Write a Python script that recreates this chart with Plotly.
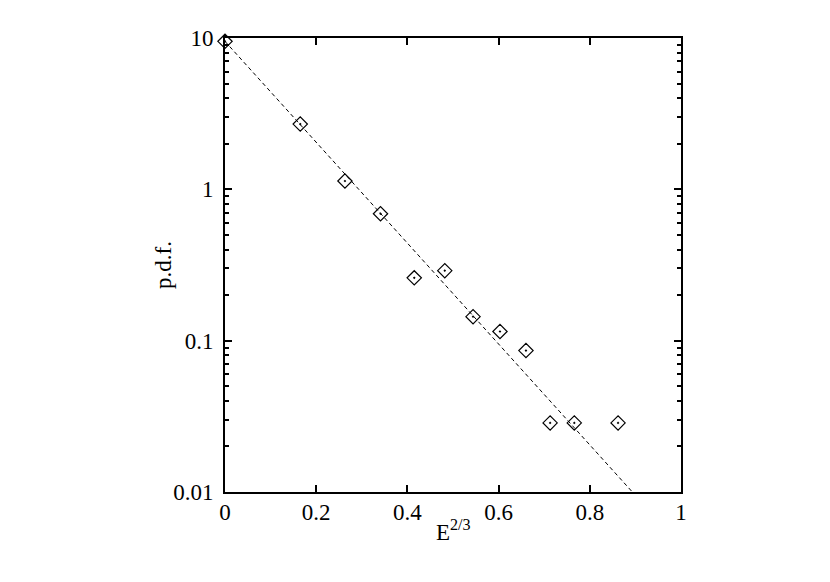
import plotly.graph_objects as go

# data
x_pts = [0.0, 0.165, 0.263, 0.341, 0.415, 0.482, 0.544, 0.603, 0.660, 0.713, 0.766, 0.862]
y_pts = [9.5, 2.70, 1.135, 0.69, 0.26, 0.29, 0.144, 0.115, 0.086, 0.0286, 0.0286, 0.0286]

x_fit = [0.0, 0.9]
y_fit = [9.5, 0.0095]

x_ticks = [0, 0.2, 0.4, 0.6, 0.8, 1]
x_ticklabels = ["0", "0.2", "0.4", "0.6", "0.8", "1"]
y_ticks = [0.01, 0.1, 1, 10]
y_ticklabels = ["0.01", "0.1", "1", "10"]
y_minor = [m * d for d in (0.01, 0.1, 1) for m in range(2, 10)]

x_title = "E<sup>2/3</sup>"
y_title = "p.d.f."

font = dict(family="Liberation Serif, Times New Roman, serif", size=23, color="black")

fig = go.Figure()
fig.add_trace(go.Scatter(x=x_fit, y=y_fit, mode="lines",
                         line=dict(color="black", width=1, dash="4px,3px"),
                         showlegend=False, hoverinfo="skip"))
fig.add_trace(go.Scatter(x=x_pts, y=y_pts, mode="markers",
                         marker=dict(symbol="diamond-open-dot", size=11, color="black",
                                     line=dict(width=1.2, color="black")),
                         showlegend=False, cliponaxis=False))

fig.add_annotation(text=x_title, xref="paper", yref="paper", x=0.5, y=0,
                   xanchor="center", yanchor="middle", yshift=-38, showarrow=False, font=font)
fig.add_annotation(text=y_title, xref="paper", yref="paper", x=0, y=0.5,
                   xanchor="center", yanchor="middle", xshift=-62, textangle=-90,
                   showarrow=False, font=font)

fig.update_layout(
    width=830, height=582,
    margin=dict(l=217, r=157, t=30, b=98, autoexpand=False),
    paper_bgcolor="white", plot_bgcolor="white",
    font=font,
    xaxis=dict(range=[0, 1], tickvals=x_ticks, ticktext=x_ticklabels,
               ticks="inside", ticklen=7, tickwidth=1.5, tickcolor="black",
               showline=True, linecolor="black", linewidth=2, mirror="allticks",
               showgrid=False, zeroline=False, automargin=False, ticklabelstandoff=-2),
    yaxis=dict(type="log", range=[-2, 1], tickvals=y_ticks, ticktext=y_ticklabels,
               ticks="inside", ticklen=7, tickwidth=1.5, tickcolor="black",
               showline=True, linecolor="black", linewidth=2, mirror="allticks",
               showgrid=False, zeroline=False, automargin=False, ticklabelstandoff=5,
               minor=dict(tickvals=y_minor, ticks="inside", ticklen=4, tickwidth=1.5,
                          tickcolor="black", showgrid=False)),
)

fig.write_html("out.html")
